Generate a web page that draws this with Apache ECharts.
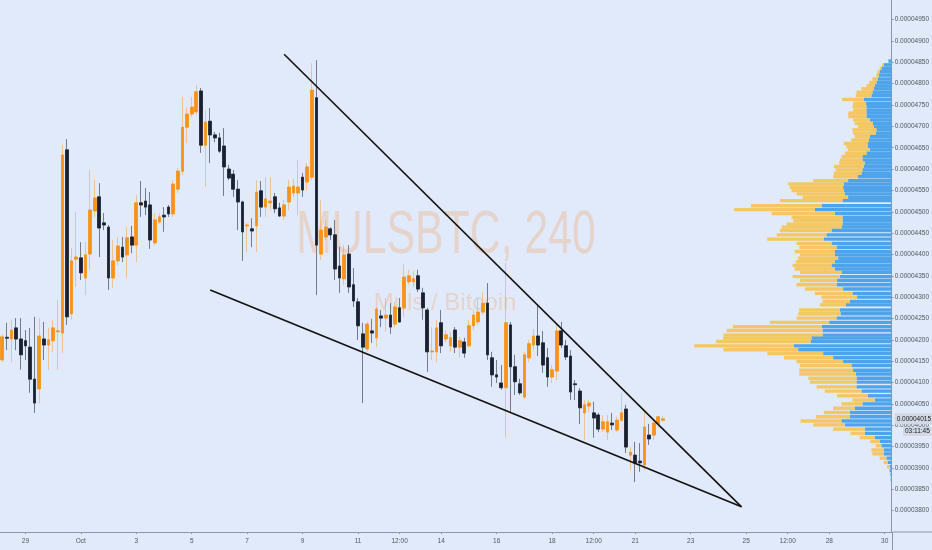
<!DOCTYPE html>
<html><head><meta charset="utf-8">
<script src="https://cdn.jsdelivr.net/npm/echarts@6/dist/echarts.min.js"></script>
<style>html,body{margin:0;padding:0;background:#e1eafa}#c{width:932px;height:550px}</style>
</head><body><div id="c"></div>
<script>
// ---- data (prices in satoshi: 4015 = 0.00004015 BTC) ----
const startUTC = [2019, 8, 28, 4];   // first 4h candle: 2019-09-28 04:00
const slotCount = 193;               // 4h slots shown on the time axis
// [open, close, low, high]
const candles = [
[4153,4207,4148,4212],[4206,4204,4176,4240],[4202,4223,4148,4247],[4228,4202,4176,4251],[4202,4165,4130,4251],
[4198,4186,4153,4223],[4183,4108,4076,4228],[4108,4052,4029,4254],[4085,4209,4052,4251],[4202,4188,4153,4242],
[4188,4200,4130,4228],[4198,4228,4172,4247],[4219,4221,4130,4293],[4216,4633,4169,4656],[4645,4254,4235,4670],
[4261,4385,4247,4415],[4389,4394,4324,4500],[4392,4357,4340,4429],[4345,4399,4305,4429],[4401,4504,4364,4598],
[4502,4532,4488,4574],[4535,4462,4394,4567],[4474,4469,4457,4497],[4464,4345,4317,4469],[4345,4385,4322,4434],
[4385,4420,4375,4441],[4417,4394,4382,4441],[4399,4439,4345,4464],[4441,4422,4403,4467],[4422,4521,4382,4539],
[4521,4516,4488,4572],[4525,4511,4492,4556],[4516,4434,4413,4546],[4427,4481,4422,4497],[4476,4488,4471,4497],
[4492,4488,4453,4511],[4511,4495,4488,4516],[4495,4565,4488,4574],[4553,4595,4544,4602],[4595,4698,4586,4769],
[4698,4729,4661,4745],[4729,4745,4722,4769],[4734,4781,4727,4797],[4783,4656,4638,4790],[4656,4710,4558,4738],
[4712,4680,4614,4743],[4680,4673,4663,4687],[4673,4642,4638,4685],[4654,4605,4537,4696],[4600,4579,4574,4610],
[4588,4553,4535,4598],[4553,4523,4457,4574],[4523,4453,4385,4526],[4467,4469,4406,4474],[4460,4455,4417,4485],
[4467,4546,4406,4574],[4549,4511,4488,4572],[4511,4530,4488,4581],[4521,4525,4504,4581],[4535,4507,4497,4544],
[4509,4490,4488,4521],[4490,4516,4481,4528],[4523,4558,4504,4574],[4544,4560,4535,4577],[4544,4558,4492,4621],
[4581,4551,4535,4591],[4570,4605,4551,4614],[4581,4785,4574,4848],[4767,4422,4305,4855],[4401,4457,4387,4528],
[4441,4464,4434,4481],[4460,4446,4434,4464],[4446,4366,4340,4481],[4373,4345,4310,4418],[4343,4399,4329,4422],
[4401,4324,4310,4422],[4329,4291,4277,4368],[4289,4233,4200,4298],[4214,4183,4052,4240],[4179,4237,4172,4242],
[4221,4216,4193,4249],[4205,4272,4183,4277],[4256,4251,4230,4270],[4251,4258,4219,4298],[4258,4230,4214,4286],
[4237,4277,4230,4289],[4275,4242,4240,4298],[4275,4347,4254,4378],[4336,4350,4329,4364],[4336,4343,4324,4361],
[4350,4319,4312,4364],[4310,4275,4247,4322],[4270,4172,4125,4275],[4172,4174,4153,4230],[4172,4228,4148,4247],
[4240,4186,4169,4270],[4202,4212,4195,4223],[4186,4205,4172,4219],[4223,4183,4169,4230],[4183,4198,4158,4207],
[4195,4169,4158,4205],[4186,4233,4181,4247],[4233,4258,4223,4270],[4242,4265,4235,4298],[4265,4286,4258,4312],
[4286,4165,4153,4333],[4158,4118,4090,4172],[4118,4113,4099,4153],[4099,4088,4083,4141],[4088,4240,3971,4380],
[4235,4137,4029,4242],[4137,4102,4071,4165],[4097,4076,4071,4109],[4066,4165,4062,4172],[4158,4191,4148,4200],
[4188,4209,4176,4226],[4209,4188,4162,4282],[4193,4141,4123,4221],[4158,4113,4090,4181],[4113,4130,4099,4141],
[4127,4221,4106,4240],[4221,4188,4181,4242],[4186,4160,4153,4200],[4162,4078,4059,4176],[4097,4095,4059,4106],
[4080,4041,4003,4087],[4029,4048,3965,4059],[4045,4052,4031,4059],[4029,4017,3971,4055],[4024,3991,3984,4029],
[3991,4008,3984,4024],[3984,4008,3965,4024],[4005,4001,3989,4029],[3989,4012,3984,4020],[4012,4029,4008,4076],
[4038,3949,3935,4048],[3930,3937,3895,3949],[3930,3912,3867,3961],[3916,3912,3891,3958],[3907,3996,3895,4031],
[3977,3968,3954,4003],[3977,4005,3965,4012],[4003,4020,3994,4022],[4012,4015,4008,4022]
];
const tickDates = ['09-29 00:00','10-01 00:00','10-03 00:00','10-05 00:00','10-07 00:00','10-09 00:00','10-11 00:00','10-12 12:00','10-14 00:00','10-16 00:00','10-18 00:00','10-19 12:00','10-21 00:00','10-23 00:00','10-25 00:00','10-26 12:00','10-28 00:00','10-30 00:00'];
const tickTexts = ['29','Oct','3','5','7','9','11','12:00','14','16','18','12:00','21','23','25','12:00','28','30'];
const upperTrend = [['10-08 08:00', 4869], ['10-24 20:00', 3809]];
const lowerTrend = [['10-05 16:00', 4317], ['10-24 20:00', 3809]];
const lastPrice = 4015;
const countdown = '03:11:45';
// visible-range volume profile rows
const profilePrice = [4853,4844,4836,4828,4820,4811,4803,4795,4788,4780,4772,4763,4754,4746,4738,4731,4723,4715,4707,4699,
4692,4684,4676,4668,4660,4653,4645,4637,4629,4621,4614,4606,4598,4590,4582,4573,4565,4557,4550,4542,
4534,4526,4514,4505,4496,4487,4479,4471,4464,4456,4446,4436,4426,4417,4407,4399,4391,4383,4374,4366,
4358,4348,4339,4329,4319,4309,4300,4290,4282,4270,4261,4251,4241,4231,4222,4211,4204,4196,4186,4177,
4168,4158,4149,4140,4129,4120,4110,4101,4090,4080,4069,4059,4050,4040,4030,4020,4010,4001,3991,3981,
3971,3962,3952,3942,3933,3923,3913,3903,3894,3884,3872];
const profileBlue = [3.3,8,10.3,12,12.7,13.7,15.3,17,17.7,19.3,20.3,28,26,25.3,25.3,25.3,25.3,22,18.7,18,
15.3,16,22,22.7,23.7,23.7,22,25.3,29.3,29.3,27,28,29.3,30.3,33.7,43.7,48,48.7,48,47,
43.7,49.3,70.3,77,57,49.3,49.3,49.3,50.3,60.3,65.3,68,60.3,55.3,57,57,53.7,57,60.3,57,
50.3,52,54.7,55.3,48.7,39.3,34.7,42,46,52,51.3,55.3,62.7,70.3,69.3,69.3,80.3,81.3,98,93.7,
68.7,58.7,48.7,40.3,38.7,36,35.3,35.3,35.3,30.3,23.7,17,29.3,37,42,42,50.3,47,27,27,
17,12,10.3,8,8,5.3,3.7,2,2,1.3,1];
const profileYellow = [0,1.7,1.7,2.3,2.7,5.7,7.3,8.3,12.7,16,15.7,21.7,12.7,14,13.3,18.3,18.3,16.7,18.3,15.7,
24,22.7,15,17.7,24.3,21.7,21.7,21.7,21,22.7,25.7,30,26.7,27.7,25,35,55.7,53.3,52.3,48.3,
45.7,62.7,70.7,81,63.3,51,49.3,56,60,51.7,50,56.7,35,37.3,40,35,40,39,39,40,
41.7,47.3,37.3,40,38.3,37.7,35.7,27.3,26,40.7,42.3,40,59.3,89,96,99.3,88.7,94.7,100,75,
56,49.3,46.7,51.7,54,56.7,48.3,46.7,40,36.7,31,22.3,21,21.7,26,34,41,31.7,31.7,14.3,
15,9.3,5.7,12.3,11.3,6.7,4.3,2.7,0.7,0,0];

// ---- build ----
const pad = n => (n < 10 ? '0' : '') + n;
const cats = [];
const t0 = Date.UTC(startUTC[0], startUTC[1], startUTC[2], startUTC[3]);
for (let k = 0; k < slotCount; k++) {
  const d = new Date(t0 + k * 4 * 3600e3);
  cats.push(pad(d.getUTCMonth() + 1) + '-' + pad(d.getUTCDate()) + ' ' + pad(d.getUTCHours()) + ':00');
}
const tickMap = {};
tickDates.forEach((d, i) => tickMap[d] = tickTexts[i]);
const isTick = (idx, val) => tickMap[val] !== undefined;
const bodies = candles.map(c => [c[0], c[1], Math.min(c[0], c[1]), Math.max(c[0], c[1])]);
const profileRows = profilePrice.map((p, k) => [p, profileBlue[k], profileYellow[k]]);
const fmtPrice = v => (v / 1e8).toFixed(8);

const UP = '#f7931a', DOWN = '#1a2030';
const axisCol = '#8d96a5', labelCol = '#50555f';

const chart = echarts.init(document.getElementById('c'), null, {renderer: 'canvas'});
chart.setOption({
  animation: false,
  backgroundColor: '#e1eafa',
  grid: {left: -1.5, right: 39.5, top: 0, bottom: 18, containLabel: false},
  xAxis: [{
    type: 'category', data: cats, boundaryGap: true,
    axisLine: {lineStyle: {color: axisCol}},
    axisTick: {show: true, interval: isTick, alignWithLabel: true, length: 2, lineStyle: {color: axisCol}},
    axisLabel: {interval: isTick, formatter: v => tickMap[v] || '', fontSize: 6.5, color: labelCol, margin: 6, fontFamily: 'Liberation Sans'},
    splitLine: {show: false}
  }, {
    type: 'value', inverse: true, min: 0, max: 894, show: false
  }],
  yAxis: [{
    type: 'value', position: 'right', min: 3750, max: 4996, interval: 50,
    axisLine: {show: true, lineStyle: {color: axisCol}},
    axisTick: {show: true, length: 2, lineStyle: {color: axisCol}},
    axisLabel: {showMinLabel: false, showMaxLabel: false, formatter: fmtPrice, fontSize: 6.5, color: labelCol, margin: 3, fontFamily: 'Liberation Sans'},
    splitLine: {show: false}
  }],
  graphic: [
    {type: 'text', x: 446, y: 236, scaleX: 0.69, z: 0, silent: true,
     style: {text: 'MULSBTC, 240', font: '62px "Liberation Sans"', fill: 'rgba(245,140,60,0.24)', textAlign: 'center', textVerticalAlign: 'middle'}},
    {type: 'text', x: 445, y: 303, z: 0, silent: true,
     style: {text: 'Muls / Bitcoin', font: '24px "Liberation Sans"', fill: 'rgba(245,140,60,0.24)', textAlign: 'center', textVerticalAlign: 'middle'}},
    {type: 'line', z: 1, silent: true, shape: {x1: 892.5, y1: 532, x2: 892.5, y2: 550}, style: {stroke: axisCol, lineWidth: 1}},
    {type: 'line', z: 1, silent: true, shape: {x1: 892.5, y1: 532, x2: 932, y2: 532}, style: {stroke: axisCol, lineWidth: 1}},
    {type: 'text', x: 903, y: 427, z: 10, silent: true,
     style: {text: countdown, font: '6.5px "Liberation Sans"', fill: '#131722', backgroundColor: '#d3d9e2', padding: [1, 2]}}
  ],
  series: [
    {
      type: 'custom', name: 'profile', xAxisIndex: 1, yAxisIndex: 0, z: 1,
      dimensions: ['price', 'blue', 'yellow'], encode: {x: 1, y: 0},
      data: profileRows,
      renderItem: (params, api) => {
        const p = api.value(0), b = api.value(1), yv = api.value(2);
        const c0 = api.coord([0, p]);
        const cb = api.coord([b, p]);
        const cy = api.coord([b + yv, p]);
        const h = 3.4, top = c0[1] - h / 2;
        return {type: 'group', children: [
          {type: 'rect', shape: {x: cb[0], y: top, width: c0[0] - cb[0], height: h}, style: {fill: '#4ea4ea'}},
          {type: 'rect', shape: {x: cy[0], y: top, width: cb[0] - cy[0], height: h}, style: {fill: '#f4c762'}}
        ]};
      }
    },
    {
      type: 'candlestick', name: 'wicks', data: candles, barWidth: 3.2, z: 2,
      itemStyle: {color: 'rgba(247,147,26,0.45)', color0: '#727b89', borderColor: 'rgba(247,147,26,0.45)', borderColor0: '#727b89', borderWidth: 1}
    },
    {
      type: 'candlestick', name: 'MULSBTC', data: bodies, barWidth: 3.2, z: 3,
      itemStyle: {color: UP, color0: DOWN, borderColor: UP, borderColor0: DOWN, borderWidth: 0.6},
      markLine: {
        silent: true, symbol: 'none', animation: false,
        data: [{yAxis: lastPrice}],
        lineStyle: {color: 'rgba(0,0,0,0)', width: 0},
        label: {show: true, position: 'end', distance: 3, formatter: () => fmtPrice(lastPrice),
                fontSize: 6.5, color: '#131722', backgroundColor: '#d3d9e2', padding: [2, 2], fontFamily: 'Liberation Sans'}
      }
    },
    {type: 'line', data: upperTrend, symbol: 'none', z: 4, lineStyle: {color: '#111111', width: 1.6}},
    {type: 'line', data: lowerTrend, symbol: 'none', z: 4, lineStyle: {color: '#111111', width: 1.6}}
  ]
});
</script></body></html>
